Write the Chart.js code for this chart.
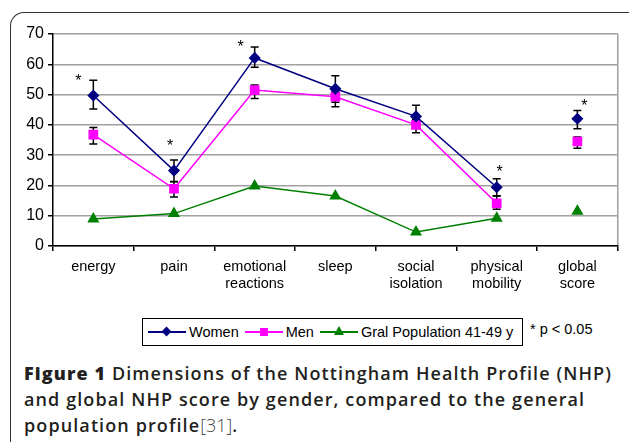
<!DOCTYPE html>
<html lang="en">
<head>
    <meta charset="UTF-8">
    <title>Nottingham Health Profile by gender</title>
    <script src="https://cdn.jsdelivr.net/npm/chart.js"></script>
    <style>
        body { margin: 0; background: #fff; width: 629px; height: 442px; overflow: hidden; position: relative; }
        #frame {
            position: absolute; left: 10px; top: 12px; width: 640px; height: 460px;
            border-top: 1.5px solid #333; border-left: 1.5px solid #333;
            border-top-left-radius: 14px; border-top-right-radius: 10px;
        }
        #chartBox { position: absolute; left: 10px; top: 14px; width: 615px; height: 296px; }
        #legend {
            position: absolute; left: 142px; top: 318px; width: 379px; height: 26px;
            border: 1.5px solid #000; display: flex; align-items: center;
            font: 14.5px "Liberation Sans", Arial, sans-serif; color: #000;
        }
        .item { display: flex; align-items: center; margin-left: 5px; }
        .sample { position: relative; width: 38px; height: 12px; margin-right: 3px; }
        .sample .ln { position: absolute; left: 0; right: 0; top: 5px; height: 1.5px; }
        .mk { position: absolute; }
        #note { position: absolute; left: 530px; top: 321px; font: 14.5px "Liberation Sans", Arial, sans-serif; }
        #caption {
            position: absolute; left: 24px; top: 360px; width: 620px; white-space: nowrap;
            font: 600 18px/26px "Open Sans", "Noto Sans", sans-serif; color: #231f20;
            letter-spacing: 1.1px;
        }
        #caption b { font-weight: 800; }
        #caption .ref { font-weight: 300; letter-spacing: 0; color: #444; }
    </style>
</head>
<body>
    <div id="frame"></div>
    <div id="chartBox"><canvas id="nhpChart"></canvas></div>
    <div id="legend">
        <div class="item"><div class="sample"><div class="ln" style="background:#000080"></div>
            <div class="mk" style="left:15px;top:2px;width:7px;height:7px;background:#000080;transform:rotate(45deg)"></div></div>Women</div>
        <div class="item" style="margin-left:6px"><div class="sample"><div class="ln" style="background:#ff00ff"></div>
            <div class="mk" style="left:15px;top:2px;width:8px;height:8px;background:#ff00ff"></div></div>Men</div>
        <div class="item" style="margin-left:6px"><div class="sample"><div class="ln" style="background:#008000"></div>
            <div class="mk" style="left:14px;top:0px;width:0;height:0;border-left:5px solid transparent;border-right:5px solid transparent;border-bottom:9px solid #008000"></div></div>Gral Population 41-49 y</div>
    </div>
    <div id="note">* p &lt; 0.05</div>
    <div id="caption"><b>Figure 1</b> Dimensions of the Nottingham Health Profile (NHP)<br>and global NHP score by gender, compared to the general<br>population profile<span class="ref">[31]</span>.</div>

    <script>
        // categories and values
        const categories = ['energy', 'pain', ['emotional', 'reactions'], 'sleep', ['social', 'isolation'], ['physical', 'mobility'], ['global', 'score']];
        const women     = [49.7, 24.9, 62.1, 51.9, 42.8, 19.4, 42.0];
        const womenHigh = [54.7, 28.4, 65.7, 56.2, 46.5, 22.2, 44.7];
        const womenLow  = [45.2, 21.3, 59.0, 47.5, 39.1, 16.6, 38.7];
        const men       = [36.8, 18.9, 51.5, 49.3, 40.0, 14.1, 34.5];
        const menHigh   = [39.1, 21.2, 53.2, 51.0, 41.7, 16.5, 36.0];
        const menLow    = [33.7, 16.2, 48.7, 46.0, 37.4, 12.1, 32.3];
        const gral      = [8.9, 10.7, 19.8, 16.5, 4.6, 9.2, 11.5];
        // significance stars (p < 0.05) and the height they sit at
        const starLevel = [55.7, 34.2, 66.7, null, null, 25.7, 47.2];
        const yTicks = [0, 10, 20, 30, 40, 50, 60, 70];

        const font = { family: '"Liberation Sans", Arial, sans-serif' };

        // global score is not joined to the other dimensions
        const breakGlobal = ctx => ctx.p1DataIndex === 6 ? 'transparent' : undefined;

        const errorBars = {
            id: 'errorBars',
            beforeDatasetsDraw(chart) {
                const x = chart.scales.x, y = chart.scales.y, c = chart.ctx;
                c.save();
                c.strokeStyle = '#000';
                c.lineWidth = 1.5;
                [[womenHigh, womenLow], [menHigh, menLow]].forEach(([hi, lo]) => {
                    hi.forEach((h, i) => {
                        const px = x.getPixelForValue(i);
                        const yh = y.getPixelForValue(h), yl = y.getPixelForValue(lo[i]);
                        c.beginPath();
                        c.moveTo(px, yh); c.lineTo(px, yl);
                        c.moveTo(px - 4, yh); c.lineTo(px + 4, yh);
                        c.moveTo(px - 4, yl); c.lineTo(px + 4, yl);
                        c.stroke();
                    });
                });
                c.restore();
            },
            afterDatasetsDraw(chart, args, opts) {
                const x = chart.scales.x, y = chart.scales.y, c = chart.ctx;
                c.save();
                c.fillStyle = '#000';
                c.font = '16px "Liberation Sans", Arial, sans-serif';
                c.textAlign = 'center';
                c.textBaseline = 'middle';
                starLevel.forEach((v, i) => {
                    if (v === null) return;
                    const px = x.getPixelForValue(i) + opts.shift[i];
                    c.fillText('*', px, y.getPixelForValue(v) + 4);
                });
                c.restore();
            }
        };

        new Chart(document.getElementById('nhpChart'), {
            type: 'line',
            data: {
                labels: categories,
                datasets: [{
                    label: 'Women',
                    data: women,
                    borderColor: '#000080',
                    backgroundColor: '#000080',
                    borderWidth: 1.5,
                    pointStyle: 'rectRot',
                    pointRadius: 5,
                    segment: { borderColor: breakGlobal }
                }, {
                    label: 'Men',
                    data: men,
                    borderColor: '#ff00ff',
                    backgroundColor: '#ff00ff',
                    borderWidth: 1.5,
                    pointStyle: 'rect',
                    pointRadius: 5.8,
                    segment: { borderColor: breakGlobal }
                }, {
                    label: 'Gral Population 41-49 y',
                    data: gral,
                    borderColor: '#008000',
                    backgroundColor: '#008000',
                    borderWidth: 1.5,
                    pointStyle: 'triangle',
                    pointRadius: 5.5,
                    segment: { borderColor: breakGlobal }
                }]
            },
            options: {
                responsive: true,
                maintainAspectRatio: false,
                animation: false,
                layout: { padding: { top: 20, right: 5, left: 0, bottom: 0 } },
                plugins: {
                    legend: { display: false },
                    tooltip: { enabled: false },
                    errorBars: { shift: [-15, -4, -14, 0, 0, 3, 7] }
                },
                scales: {
                    x: {
                        offset: true,
                        afterFit: s => { s.height = 64; },
                        grid: {
                            offset: true,
                            color: ctx => ctx.type === 'tick' ? 'transparent' : '#a0a0a0',
                            lineWidth: 1.5,
                            tickColor: '#000',
                            tickLength: 5
                        },
                        border: { color: '#000', width: 1.5 },
                        ticks: { color: '#000', font: { ...font, size: 14.5 }, padding: 7, maxRotation: 0, autoSkip: false }
                    },
                    y: {
                        min: 0,
                        max: 70,
                        afterFit: s => { s.width = 43; },
                        afterBuildTicks: s => { s.ticks = yTicks.map(v => ({ value: v })); },
                        grid: { color: '#a0a0a0', lineWidth: 1.5, tickColor: '#000', tickLength: 5 },
                        border: { color: '#000', width: 1.5 },
                        ticks: { color: '#000', font: { ...font, size: 16 }, padding: 4 }
                    }
                }
            },
            plugins: [errorBars]
        });
    </script>
</body>
</html>
